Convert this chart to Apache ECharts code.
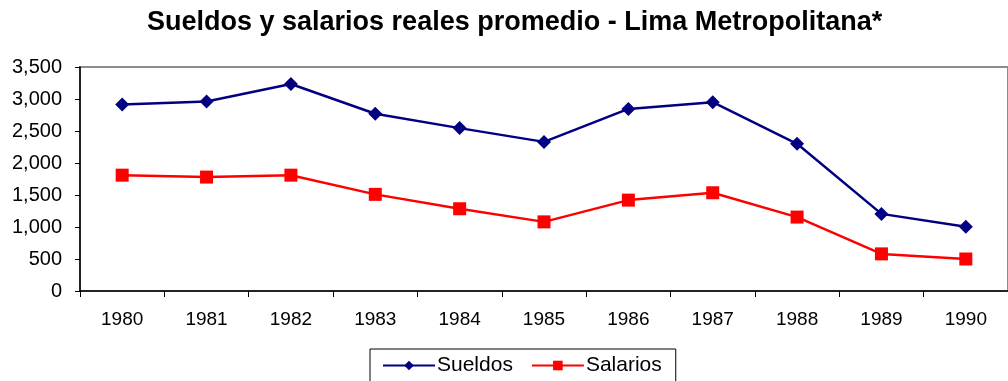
<!DOCTYPE html>
<html>
<head>
<meta charset="utf-8">
<script src="https://cdn.jsdelivr.net/npm/echarts@6/dist/echarts.min.js"></script>
<style>
  html, body { margin: 0; padding: 0; background: #fff; }
  #chart { width: 1008px; height: 381px; }
</style>
</head>
<body>
<div id="chart"></div>
<script>
// Years on the horizontal axis
const years = ['1980', '1981', '1982', '1983', '1984', '1985', '1986', '1987', '1988', '1989', '1990'];
// Average real wages (sueldos) and salaries (salarios), Lima Metropolitana
const sueldos = [2915, 2960, 3235, 2770, 2545, 2330, 2845, 2950, 2300, 1205, 1005];
const salarios = [1810, 1780, 1810, 1510, 1285, 1080, 1420, 1535, 1155, 580, 500];
// Vertical axis range
const yMin = 0, yMax = 3500, yStep = 500;

const font = 'Liberation Sans, Arial, sans-serif';
const chart = echarts.init(document.getElementById('chart'), null, { renderer: 'canvas' });

chart.setOption({
  animation: false,
  backgroundColor: '#ffffff',
  title: {
    text: 'Sueldos y salarios reales promedio - Lima Metropolitana*',
    left: 147,
    top: 9,
    padding: 0,
    textStyle: { fontFamily: font, fontSize: 27, fontWeight: 'bold', color: '#000' }
  },
  legend: {
    left: 370,
    top: 349,
    padding: [6, 14, 12, 12],
    itemWidth: 52,
    itemHeight: 12,
    itemGap: 18,
    borderColor: '#000',
    borderWidth: 1,
    textStyle: { fontFamily: font, fontSize: 21, color: '#000', padding: [0, 0, 0, -3] },
    data: ['Sueldos', 'Salarios']
  },
  grid: {
    left: 80,
    top: 67,
    width: 931,
    height: 224,
    show: true,
    borderColor: '#8c8c8c',
    borderWidth: 2
  },
  xAxis: {
    type: 'category',
    data: years,
    boundaryGap: true,
    axisLine: { lineStyle: { color: '#000', width: 1.5 } },
    axisTick: { show: true, interval: 0, length: 6, lineStyle: { color: '#000' } },
    axisLabel: { fontFamily: font, fontSize: 19, color: '#000', margin: 19, interval: 0 },
    splitLine: { show: false }
  },
  yAxis: {
    type: 'value',
    min: yMin,
    max: yMax,
    interval: yStep,
    axisLine: { show: true, lineStyle: { color: '#000', width: 1.5 } },
    axisTick: { show: true, length: 5, lineStyle: { color: '#000' } },
    axisLabel: {
      fontFamily: font, fontSize: 20, color: '#000', margin: 18,
      formatter: v => v.toLocaleString('en-US')
    },
    splitLine: { show: false }
  },
  series: [
    {
      name: 'Sueldos',
      type: 'line',
      data: sueldos,
      symbol: 'diamond',
      symbolSize: 14,
      color: '#000080',
      lineStyle: { color: '#000080', width: 2.5 },
      itemStyle: { color: '#000080' }
    },
    {
      name: 'Salarios',
      type: 'line',
      data: salarios,
      symbol: 'rect',
      symbolSize: 13,
      color: '#ff0000',
      lineStyle: { color: '#ff0000', width: 2.5 },
      itemStyle: { color: '#ff0000' }
    }
  ]
});
</script>
</body>
</html>
